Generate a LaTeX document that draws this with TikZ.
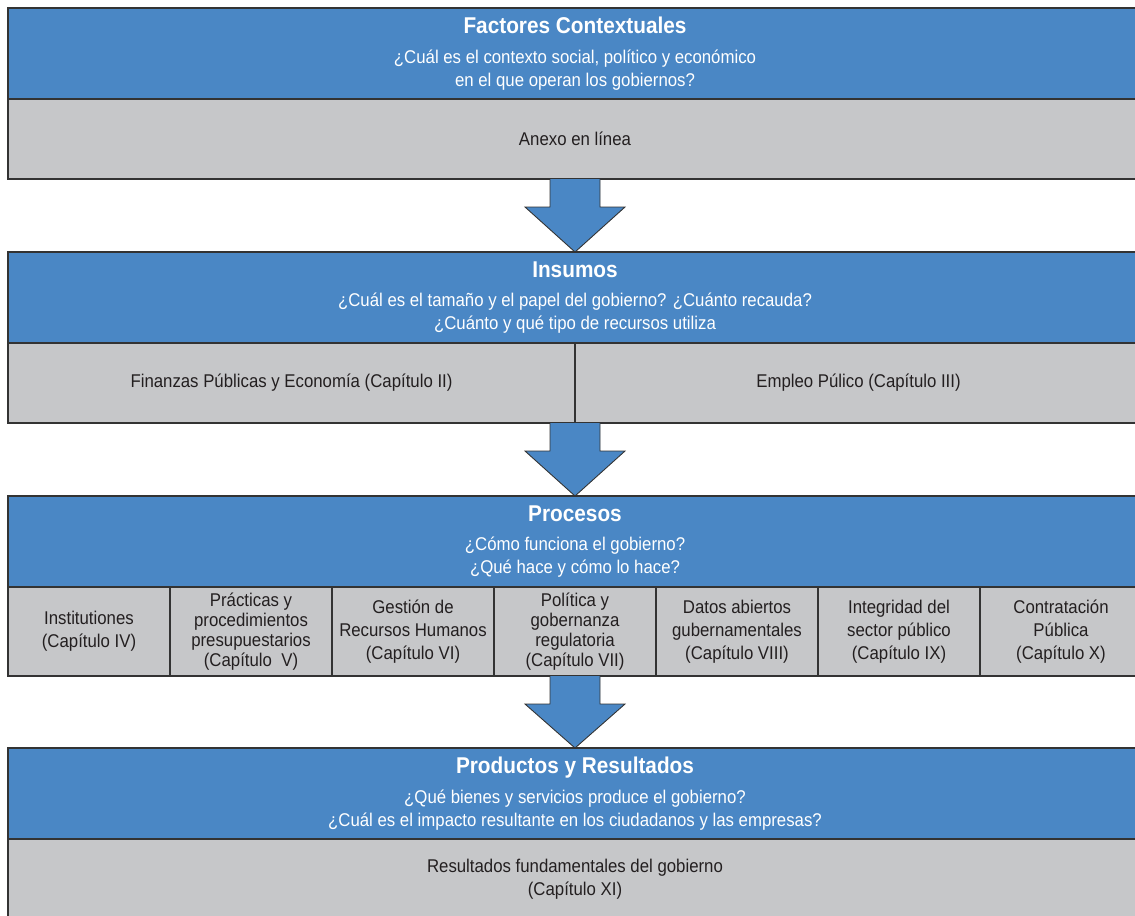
\documentclass[tikz,border=0pt]{standalone}
\usepackage{fontspec}
\setmainfont{Liberation Sans}[FakeStretch=0.91]
\usepackage{tikz}
\usetikzlibrary{positioning}

\definecolor{headblue}{RGB}{74,135,197}
\definecolor{panelgray}{RGB}{198,199,201}
\definecolor{rulegray}{RGB}{51,51,51}
\definecolor{inkgray}{RGB}{35,31,32}

\newcommand{\headtitle}[1]{{\fontsize{13}{15}\selectfont\bfseries #1}}

\begin{document}
\begin{tikzpicture}[x=1.0cm, y=1.0cm,
  every node/.style={outer sep=0pt, inner sep=2pt},
  header/.style={rectangle, draw=rulegray, line width=0.6pt, fill=headblue,
    text=white, minimum width=22.68cm, minimum height=1.82cm, align=center,
    font=\fontsize{10.5}{13}\selectfont},
  panel/.style={rectangle, draw=rulegray, line width=0.6pt, fill=panelgray,
    text=inkgray, minimum height=1.6cm, align=center,
    font=\fontsize{10.5}{13}\selectfont},
  cell/.style={panel, minimum width=3.24cm, minimum height=1.78cm},
  downarrow/.style={draw=rulegray, line width=0.5pt, fill=headblue, line join=miter}]

\useasboundingbox (0,0) rectangle (22.7,-18.3);

\node [header] (context) at (11.5,-1.07)
  {\headtitle{Factores Contextuales}\\[4pt]
   ¿Cuál es el contexto social, político y económico\\
   en el que operan los gobiernos?};
\node [panel, minimum width=22.68cm, below=0pt of context] (annex) {Anexo en línea};

\node [header, below=1.46cm of annex] (inputs)
  {\headtitle{Insumos}\\[4pt]
   ¿Cuál es el tamaño y el papel del gobierno? ¿Cuánto recauda?\\
   ¿Cuánto y qué tipo de recursos utiliza};
\node [panel, minimum width=11.34cm, below right=0pt of inputs.south west] (finance)
  {Finanzas Públicas y Economía (Capítulo II)};
\node [panel, minimum width=11.34cm, right=0pt of finance] (employ)
  {Empleo Púlico (Capítulo III)};

\node [header, below=3.06cm of inputs] (processes)
  {\headtitle{Procesos}\\[4pt]
   ¿Cómo funciona el gobierno?\\
   ¿Qué hace y cómo lo hace?};

\foreach \t [count=\i from 0] in {
    {Institutiones\\(Capítulo IV)},
    {Prácticas y\\[-1.6pt]procedimientos\\[-1.6pt]presupuestarios\\[-1.6pt](Capítulo\ \ V)},
    {Gestión de\\Recursos Humanos\\(Capítulo VI)},
    {Política y\\[-1.6pt]gobernanza\\[-1.6pt]regulatoria\\[-1.6pt](Capítulo VII)},
    {Datos abiertos\\gubernamentales\\(Capítulo VIII)},
    {Integridad del\\sector público\\(Capítulo IX)},
    {Contratación\\Pública\\(Capítulo X)}}
  \node [cell, anchor=north west] (chapter-\i) at ([xshift=\i*3.24cm]processes.south west) {\t};

\node [header, below=1.44cm of chapter-3] (results)
  {\headtitle{Productos y Resultados}\\[4pt]
   ¿Qué bienes y servicios produce el gobierno?\\
   ¿Cuál es el impacto resultante en los ciudadanos y las empresas?};
\node [panel, minimum width=22.68cm, below=0pt of results] (outcomes)
  {Resultados fundamentales del gobierno\\(Capítulo XI)};

\foreach \a/\b in {annex.south/inputs.north, finance.south east/processes.north,
                   chapter-3.south/results.north}
  \draw [downarrow] ([xshift=-0.5cm]\a) -- ([xshift=-0.5cm, yshift=-0.56cm]\a)
    -- ([xshift=-1cm, yshift=-0.56cm]\a) -- (\b) -- ([xshift=1cm, yshift=-0.56cm]\a)
    -- ([xshift=0.5cm, yshift=-0.56cm]\a) -- ([xshift=0.5cm]\a);

\end{tikzpicture}
\end{document}
